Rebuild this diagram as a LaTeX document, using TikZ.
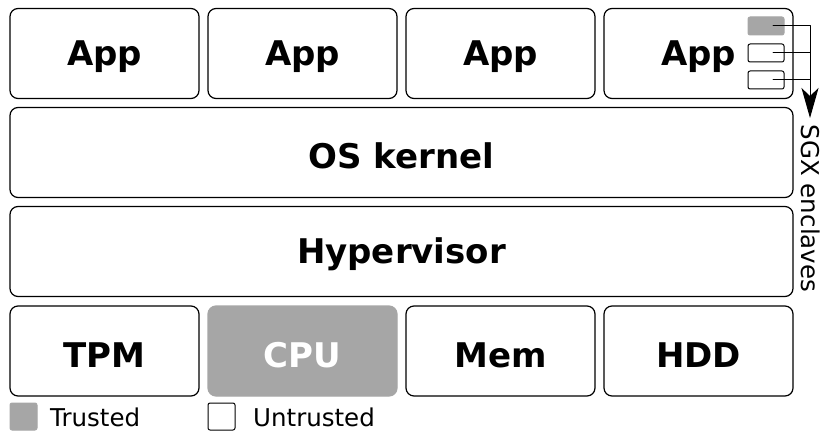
\documentclass[tikz,border=0pt]{standalone}
\usepackage{fontspec}
\setmainfont{DejaVu Sans}
\usetikzlibrary{arrows.meta,positioning}
\definecolor{trustgray}{HTML}{A6A6A6}
\tikzset{
  layer/.style={draw,line width=1.2pt,rounded corners=8pt,font=\fontsize{34}{38}\selectfont\bfseries,inner sep=0pt,text height=24.8pt,text depth=0pt},
  unit/.style={layer,minimum width=189pt,minimum height=90pt},
  wide/.style={layer,minimum width=783pt,minimum height=90pt},
  lowtext/.style={text height=32.8pt},
  trusted/.style={fill=trustgray,draw=trustgray,text=white},
  enclave/.style={draw,line width=1pt,rounded corners=2pt,minimum width=36pt,minimum height=18pt,inner sep=0pt},
  legend/.style={draw,line width=1pt,rounded corners=2pt,minimum size=27pt,inner sep=0pt},
  small/.style={font=\fontsize{24.5}{28}\selectfont,inner sep=0pt}
}
\begin{document}
\begin{tikzpicture}[x=1pt,y=-1pt,line cap=round,line join=round,>=Stealth]
  \useasboundingbox (0,0) rectangle (821,433);
  % top row
  \foreach \i/\x in {1/104.5,2/302.5,3/500.5,4/698.5}
    \node[unit] (app\i) at (\x,53.5) {App};
  \node[wide,lowtext] (kernel) at (401.5,152.5) {OS kernel};
  \node[wide] (hyper) at (401.5,251.5) {Hypervisor};
  % hardware
  \node[unit,lowtext] (tpm) at (104.5,351) {TPM};
  \node[unit,lowtext,trusted] (cpu) at (302.5,351) {CPU};
  \node[unit,lowtext] (mem) at (500.5,351) {Mem};
  \node[unit,lowtext] (hdd) at (698.5,351) {HDD};
  % enclaves
  \node[enclave,trusted] (enc1) at (766,26) {};
  \node[enclave] (enc2) at (766,53) {};
  \node[enclave] (enc3) at (766,80) {};
  \coordinate (tip) at (810,118);
  \draw[line width=1pt,-{Stealth[length=30pt,width=17pt,inset=8pt]}] ([xshift=7pt]enc1.center) -| (tip);
  \draw[line width=1pt] ([xshift=7pt]enc2.center) -- (enc2.center -| tip);
  \draw[line width=1pt] ([xshift=7pt]enc3.center) -- (enc3.center -| tip);
  \node[small,rotate=-90,anchor=base] (sgx) at (801,208.5) {SGX enclaves};
  % legend
  \node[legend,trusted] (ltrust) at (23.5,416.5) {};
  \node[small,anchor=base west] (ltrusttext) at (50,426.5) {Trusted};
  \node[legend] (luntrust) at (221.5,416.5) {};
  \node[small,anchor=base west] (luntrusttext) at (253,426.5) {Untrusted};
\end{tikzpicture}
\end{document}
